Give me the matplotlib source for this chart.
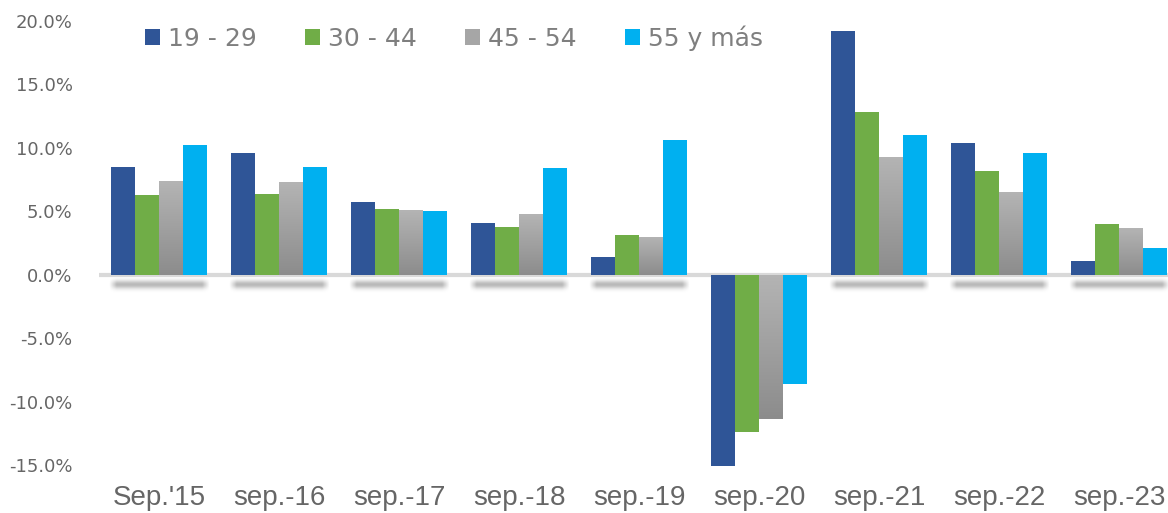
import matplotlib
matplotlib.use("Agg")
import matplotlib.pyplot as plt
import numpy as np
from matplotlib.colors import LinearSegmentedColormap

categories = ["Sep.'15", "sep.-16", "sep.-17", "sep.-18", "sep.-19",
              "sep.-20", "sep.-21", "sep.-22", "sep.-23"]
series_names = ["19 - 29", "30 - 44", "45 - 54", "55 y más"]
s19_29 = [8.5, 9.6, 5.7, 4.1, 1.4, -15.1, 19.2, 10.4, 1.1]
s30_44 = [6.3, 6.4, 5.2, 3.8, 3.1, -12.4, 12.8, 8.2, 4.0]
s45_54 = [7.4, 7.3, 5.1, 4.8, 3.0, -11.4, 9.3, 6.5, 3.7]
s55 = [10.2, 8.5, 5.0, 8.4, 10.6, -8.6, 11.0, 9.6, 2.1]
y_ticks = [-15, -10, -5, 0, 5, 10, 15, 20]

colors = ["#2F5597", "#70AD47", "#A6A6A6", "#00B0F0"]
data = [s19_29, s30_44, s45_54, s55]

W, H = 1168, 513
fig = plt.figure(figsize=(W / 100, H / 100), dpi=100)
left = 99 / W
right = 1179 / W
top = 1 - 21 / H
bottom = 1 - 467 / H
ax = fig.add_axes([left, bottom, right - left, top - bottom])
ax.set_facecolor("white")

x = np.arange(len(categories))
bw = 0.2
offsets = [-0.3, -0.1, 0.1, 0.3]

gray_cmap = LinearSegmentedColormap.from_list("g", ["#8C8C8C", "#B4B4B4"])
grad = np.linspace(0, 1, 256).reshape(-1, 1)

# soft blurred shadow image
ny, nx = 60, 160
yy = np.linspace(-1, 1, ny).reshape(-1, 1)
xx = np.linspace(-1, 1, nx).reshape(1, -1)
alpha = np.exp(-(yy / 0.5) ** 2) * np.clip((1 - np.abs(xx)) / 0.15, 0, 1)
shadow = np.zeros((ny, nx, 4))
shadow[..., 3] = 0.28 * alpha

for xi in x:
    if min(d[xi] for d in data) < 0:
        continue
    ax.imshow(shadow, extent=[xi - 0.42, xi + 0.42, -1.4, -0.1],
              aspect="auto", zorder=1, interpolation="bilinear")

for si, (vals, c) in enumerate(zip(data, colors)):
    bars = ax.bar(x + offsets[si], vals, width=bw, color=c, zorder=3,
                  label=series_names[si], linewidth=0)
    if si == 2:
        for b in bars:
            bx, by = b.get_x(), b.get_y()
            bh = b.get_height()
            y0, y1 = sorted([by, by + bh])
            im = ax.imshow(grad, extent=[bx, bx + bw, y0, y1], origin="lower",
                           aspect="auto", cmap=gray_cmap, zorder=3.5,
                           interpolation="bilinear")
            im.set_clip_path(b)

ax.axhline(0, color="#D9D9D9", lw=3, zorder=2.5)

ax.set_xlim(-0.5, len(categories) - 0.5)
ax.set_ylim(-15.15, 20)
ax.set_yticks(y_ticks)
ax.set_yticklabels([f"{v:.1f}%" for v in y_ticks], fontsize=13, color="#666666")
ax.set_xticks(x)
ax.set_xticklabels(categories, fontsize=20, color="#666666",
                   family=["Liberation Sans", "DejaVu Sans"])
ax.tick_params(axis="y", length=0, pad=19)
ax.tick_params(axis="x", length=0, pad=13)
for sp in ax.spines.values():
    sp.set_visible(False)

leg = ax.legend(loc="upper left", bbox_to_anchor=(36 / 1080, 1.012), ncol=4, frameon=False,
                fontsize=18, handlelength=0.6, handleheight=0.6, handletextpad=0.3,
                columnspacing=1.95, borderaxespad=0.0)
for t in leg.get_texts():
    t.set_color("#7F7F7F")

fig.savefig("out.png", dpi=100)
